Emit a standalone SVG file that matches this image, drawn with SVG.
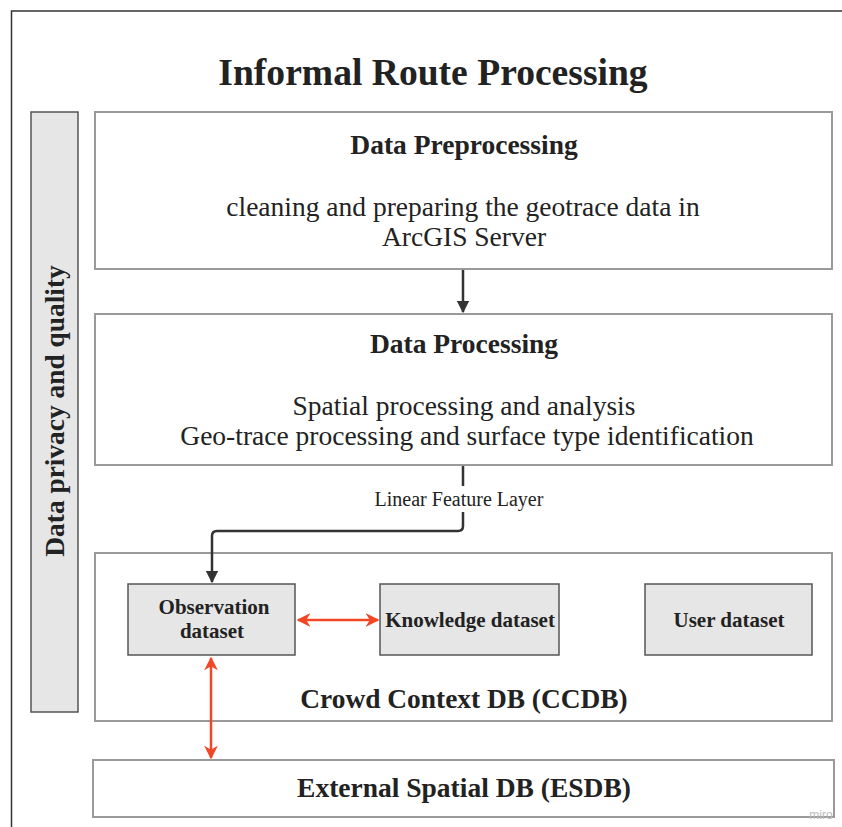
<svg xmlns="http://www.w3.org/2000/svg" width="842" height="827" viewBox="0 0 842 827">
<style>
text{font-family:"Liberation Serif","Times New Roman",serif;fill:#222;text-anchor:middle}
.b{font-weight:bold}
.box{fill:#fff;stroke:#9a9a9a;stroke-width:2}
.ds{fill:#e6e6e6;stroke:#555;stroke-width:1.5}
.dk{fill:none;stroke:#333;stroke-width:2.5}
.rd{fill:none;stroke:#f24726;stroke-width:2.5}
</style>
<defs>
<marker id="ak" viewBox="0 0 10 10" refX="9" refY="5" markerWidth="5" markerHeight="5" markerUnits="strokeWidth" orient="auto"><path d="M0,0 L10,5 L0,10 z" fill="#333"/></marker>
<marker id="ar" viewBox="0 0 10 10" refX="9" refY="5" markerWidth="5.5" markerHeight="5.5" markerUnits="strokeWidth" orient="auto-start-reverse"><path d="M0,0 L10,5 L0,10 L3,5 z" fill="#f24726"/></marker>
</defs>
<rect width="842" height="827" fill="#fff"/>
<path d="M11.5,827 V11 H842" fill="none" stroke="#333" stroke-width="1.5"/>
<text x="433" y="85" class="b" font-size="37.6">Informal Route Processing</text>

<g id="privacy">
<rect x="31" y="112" width="47" height="600" class="ds"/>
<text transform="translate(64,411) rotate(-90)" class="b" font-size="27.4">Data privacy and quality</text>
</g>

<g id="preprocessing">
<rect x="95" y="112" width="737" height="157" class="box"/>
<text x="464" y="154" class="b" font-size="27.5">Data Preprocessing</text>
<text x="463" y="216" font-size="27.5">cleaning and preparing the geotrace data in</text>
<text x="464" y="246" font-size="27.5">ArcGIS Server</text>
</g>

<g id="processing">
<rect x="95" y="314" width="737" height="151" class="box"/>
<text x="464" y="353" class="b" font-size="27.5">Data Processing</text>
<text x="464" y="415" font-size="27.5">Spatial processing and analysis</text>
<text x="467" y="445" font-size="27.5">Geo-trace processing and surface type identification</text>
</g>

<g id="ccdb">
<rect x="95" y="553" width="737" height="168" class="box"/>
<text x="464" y="708" class="b" font-size="27.4">Crowd Context DB (CCDB)</text>
</g>

<g id="observation">
<rect x="128" y="584" width="167" height="71" class="ds"/>
<text x="214" y="614" class="b" font-size="21">Observation</text>
<text x="212" y="638" class="b" font-size="21">dataset</text>
</g>

<g id="knowledge">
<rect x="380" y="584" width="179" height="71" class="ds"/>
<text x="470" y="627" class="b" font-size="21">Knowledge dataset</text>
</g>

<g id="user">
<rect x="645" y="584" width="167" height="71" class="ds"/>
<text x="729" y="627" class="b" font-size="21">User dataset</text>
</g>

<g id="esdb">
<rect x="93" y="760" width="741" height="57" class="box"/>
<text x="464" y="797" class="b" font-size="27.5">External Spatial DB (ESDB)</text>
<text x="821" y="819" font-size="12" style="fill:#bbb;font-family:'Liberation Sans',sans-serif">miro</text>
</g>

<g id="connectors">
<path d="M463,270 V312" class="dk" marker-end="url(#ak)"/>
<path d="M463,466 V486 M463,512 V526 Q463,531 458,531 H217 Q212,531 212,536 V582" class="dk" marker-end="url(#ak)"/>
<text x="459" y="506" font-size="20">Linear Feature Layer</text>
<path d="M298,620 H378" class="rd" marker-start="url(#ar)" marker-end="url(#ar)"/>
<path d="M211,658 V758" class="rd" marker-start="url(#ar)" marker-end="url(#ar)"/>
</g>
</svg>
